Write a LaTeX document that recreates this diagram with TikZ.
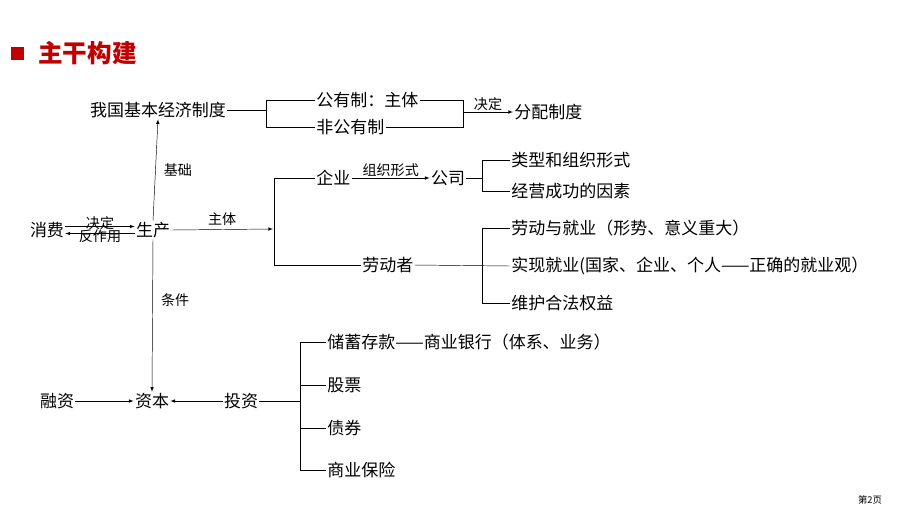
\documentclass[tikz,border=0pt]{standalone}
\usepackage{fontspec}
\setmainfont{Noto Sans CJK SC}
\usetikzlibrary{positioning}
\definecolor{titlered}{RGB}{192,0,0}
\tikzset{
  item/.style={font=\fontsize{14.5pt}{16pt}\selectfont,inner sep=1pt},
  leaf/.style={item,anchor=west},
  tag/.style={font=\fontsize{12pt}{14pt}\selectfont,inner sep=1pt},
  link/.style={thin},
  arr/.style={thin,-latex}
}
\begin{document}
\begin{tikzpicture}[x=0.03cm,y=-0.03cm]
  \useasboundingbox (0,0) rectangle (920,518);

  % Title
  \fill[titlered] (11,47) rectangle (24,60);
  \node[anchor=west,text=titlered,font=\fontsize{21pt}{24pt}\selectfont\bfseries,inner sep=0pt] (title) at (38,53) {主干构建};
  \node[font=\fontsize{8pt}{9pt}\selectfont,inner sep=0pt] (page) at (870,500) {第2页};

  % Production
  \node[item] (prod) at (153,230) {生产};
  \node[item] (cons) at (47,230) {消费};
  \node[item] (base) at (158,110) {我国基本经济制度};
  \node[item] (cap) at (152,401) {资本};
  \draw[arr] ([yshift=-3pt]prod.west) -- ([yshift=-3pt]cons.east) node[midway,above=2pt,tag] (d1) {决定};
  \draw[arr] ([yshift=3pt]cons.east) -- ([yshift=3pt]prod.west) node[midway,below=2pt,tag] (d2) {反作用};
  \draw[arr] (prod.north) -- (base.south) node[pos=0.5,right=6pt,tag] (jc) {基础};
  \draw[arr] (prod.south) -- (cap.north) node[pos=0.4,right=6pt,tag] (tj) {条件};

  % Basic system
  \node[leaf] (pub) at (315,100) {公有制：主体};
  \node[leaf] (npub) at (315,127) {非公有制};
  \node[leaf] (dist) at (513,112) {分配制度};
  \coordinate (b1) at (266,110);
  \draw[link] (base.east) -- (b1);
  \draw[link] (pub.west) -- (266,100) -- (266,127) -- (npub.west);
  \draw[link] (pub.east) -- (463,100) -- (463,127) -- (npub.east);
  \draw[arr] (463,112) -- (dist.west) node[midway,above,tag] (jd) {决定};

  % Subject
  \node[leaf] (ent) at (315,178) {企业};
  \node[leaf] (lab) at (361,265) {劳动者};
  \node[item] (co) at (448,178) {公司};
  \draw[arr] (prod.east) -- (273,229) node[midway,above=2pt,tag] (zt) {主体};
  \draw[link] (ent.west) -- (274,178) -- (274,265) -- (lab.west);
  \draw[arr] (ent.east) -- (co.west) node[midway,above,tag] (zz) {组织形式};

  \node[leaf] (c1) at (510,160) {类型和组织形式};
  \node[leaf] (c2) at (510,191) {经营成功的因素};
  \draw[link] (co.east) -- (482,178);
  \draw[link] (c1.west) -- (482,160) -- (482,191) -- (c2.west);

  \node[leaf] (l1) at (510,228) {劳动与就业（形势、意义重大）};
  \node[leaf] (l2) at (510,266) {实现就业(国家、企业、个人——正确的就业观）};
  \node[leaf] (l3) at (510,303) {维护合法权益};
  \draw[link] (lab.east) -- (l2.west);
  \draw[link] (l1.west) -- (482,228) -- (482,303) -- (l3.west);

  % Capital
  \node[item] (fin) at (57,401) {融资};
  \node[item] (inv) at (241,401) {投资};
  \draw[arr] (fin.east) -- (cap.west);
  \draw[arr] (inv.west) -- (cap.east);
  \node[leaf] (i1) at (326,342) {储蓄存款——商业银行（体系、业务）};
  \node[leaf] (i2) at (326,385) {股票};
  \node[leaf] (i3) at (326,428) {债券};
  \node[leaf] (i4) at (326,470) {商业保险};
  \draw[link] (inv.east) -- (300,401);
  \draw[link] (i1.west) -- (300,342) -- (300,470) -- (i4.west);
  \draw[link] (i2.west) -- (300,385);
  \draw[link] (i3.west) -- (300,428);
\end{tikzpicture}
\end{document}
